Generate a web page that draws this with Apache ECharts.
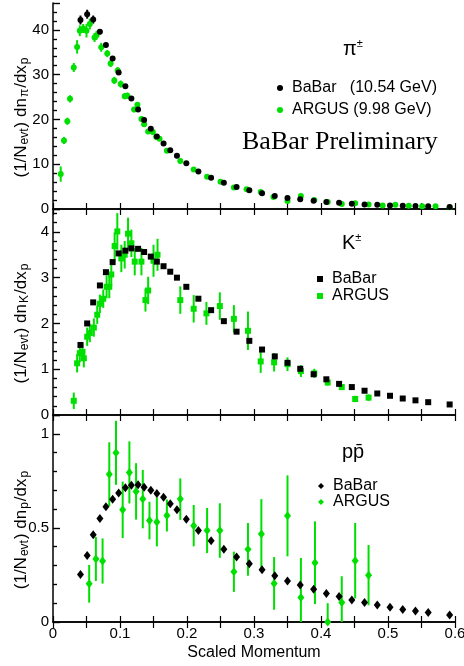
<!DOCTYPE html>
<html><head><meta charset="utf-8">
<script src="https://cdn.jsdelivr.net/npm/echarts@6/dist/echarts.min.js"></script>
<style>html,body{margin:0;padding:0;background:#fff}#c{width:464px;height:666px}</style>
</head><body><div id="c"></div>
<script>
// ---- data ----
const babarX = [0.041,0.051,0.060,0.070,0.079,0.089,0.098,0.108,0.117,0.127,0.136,0.146,0.155,0.165,0.175,0.185,0.199,0.217,0.236,0.255,0.274,0.293,0.312,0.331,0.350,0.369,0.389,0.408,0.427,0.446,0.465,0.484,0.503,0.522,0.541,0.560,0.592];
const babarPi = [42.2,43.5,42.3,39.6,36.6,33.6,30.5,27.4,24.7,22.2,19.9,17.9,16.2,14.6,13.1,11.9,10.2,8.4,7.0,5.85,4.9,4.2,3.5,2.9,2.45,2.15,1.85,1.55,1.4,1.2,1.0,0.95,0.8,0.75,0.65,0.6,0.45];
const babarPiErr = [1.0,1.0,0.9,0.6,0.5,0.4,0.4,0.3,0.3,0.3,0.3,0.2,0.2,0.2,0.2,0.2,0.2,0.1,0.1,0.1,0.1,0.1,0.1,0.1,0.1,0.1,0.1,0.1,0.1,0.1,0.1,0.1,0.1,0.1,0.1,0.1,0.1];
const babarK = [1.53,2.0,2.46,2.83,3.12,3.34,3.53,3.59,3.64,3.63,3.56,3.46,3.35,3.25,3.13,3.0,2.80,2.54,2.29,2.05,1.82,1.62,1.43,1.28,1.14,1.01,0.89,0.78,0.68,0.61,0.53,0.47,0.42,0.36,0.32,0.28,0.23];
const babarP = [0.252,0.353,0.463,0.550,0.613,0.652,0.686,0.713,0.727,0.730,0.716,0.700,0.683,0.663,0.629,0.596,0.546,0.486,0.432,0.387,0.346,0.309,0.277,0.246,0.218,0.197,0.174,0.152,0.135,0.117,0.103,0.090,0.078,0.067,0.058,0.050,0.037];

const argusPiX = [0.0115,0.0164,0.0214,0.0254,0.031,0.036,0.040,0.045,0.050,0.055,0.062,0.065,0.072,0.081,0.086,0.0915,0.0965,0.101,0.107,0.111,0.121,0.126,0.132,0.136,0.142,0.149,0.154,0.159,0.170,0.190,0.210,0.230,0.250,0.270,0.289,0.310,0.329,0.350,0.370,0.390,0.410,0.431,0.451,0.471,0.492,0.511,0.531,0.551,0.571,0.592];
const argusPi = [7.8,15.3,19.6,24.6,31.6,36.2,39.8,40.3,39.8,41.3,38.3,38.8,36.1,34.7,32.5,28.7,30.9,27.9,25.2,25.3,22.2,23.3,20.1,18.9,17.3,17.2,16.1,15.7,13.0,10.7,8.8,7.2,6.1,4.8,4.4,3.8,2.7,1.8,2.9,2.0,1.55,1.1,1.3,1.0,0.8,0.95,0.75,0.6,0.6,0.4];
const argusPiErr = [1.7,0.8,0.8,0.8,1.0,1.5,1.2,1.0,1.5,1.2,1.0,1.0,1.0,0.8,0.8,0.8,0.8,0.8,0.7,0.7,0.6,0.6,0.6,0.5,0.5,0.5,0.5,0.5,0.4,0.4,0.3,0.3,0.3,0.3,0.3,0.3,0.3,0.3,0.3,0.2,0.2,0.2,0.2,0.2,0.2,0.2,0.2,0.2,0.2,0.2];

const argusKX = [0.031,0.036,0.040,0.044,0.046,0.051,0.055,0.061,0.066,0.070,0.075,0.080,0.084,0.087,0.092,0.096,0.102,0.107,0.112,0.117,0.122,0.132,0.138,0.142,0.150,0.156,0.190,0.210,0.229,0.249,0.270,0.291,0.310,0.330,0.350,0.370,0.390,0.410,0.431,0.451,0.471];
const argusK = [0.31,1.13,1.35,1.38,1.24,1.71,1.79,1.91,2.19,2.43,2.54,2.80,2.80,3.07,3.69,4.01,3.42,3.50,3.96,3.75,3.35,3.35,2.51,2.72,3.37,3.50,2.51,2.32,2.22,2.38,2.10,1.84,1.17,1.15,1.11,0.96,0.91,0.71,0.61,0.35,0.38];
const argusKErr = [0.18,0.2,0.2,0.2,0.2,0.2,0.2,0.2,0.2,0.2,0.2,0.25,0.25,0.25,0.3,0.4,0.3,0.3,0.35,0.3,0.3,0.3,0.25,0.3,0.35,0.35,0.3,0.3,0.25,0.3,0.3,0.42,0.25,0.2,0.15,0.13,0.1,0.07,0.06,0.07,0.07];

const argusPX = [0.054,0.064,0.074,0.084,0.094,0.104,0.114,0.124,0.134,0.144,0.155,0.170,0.190,0.210,0.230,0.249,0.270,0.291,0.311,0.330,0.350,0.370,0.391,0.410,0.431,0.451,0.471];
const argusP = [0.203,0.335,0.324,0.785,0.899,0.596,0.795,0.694,0.653,0.539,0.532,0.566,0.653,0.512,0.486,0.486,0.267,0.386,0.468,0.205,0.564,0.130,0.315,0.0,0.103,0.326,0.249];
const argusPErr = [0.10,0.117,0.12,0.17,0.17,0.15,0.165,0.15,0.155,0.10,0.13,0.085,0.11,0.11,0.12,0.145,0.107,0.14,0.185,0.14,0.215,0.21,0.22,0.1,0.14,0.2,0.16];

const xTickLabels = ['0','0.1','0.2','0.3','0.4','0.5','0.6'];
const yMax = [46, 4.5, 1.1];
const yInterval = [10, 1, 0.5];

// ---- chart ----
const FONT = 'Liberation Sans';
const GREEN = '#00e000';
const chart = echarts.init(document.getElementById('c'), null, {renderer: 'canvas'});
const grids = [
  {left: 53, right: 9, top: 3, height: 206, containLabel: false, outerBoundsMode: 'none'},
  {left: 53, right: 9, top: 209, height: 206, containLabel: false, outerBoundsMode: 'none'},
  {left: 53, right: 9, top: 415, height: 207, containLabel: false, outerBoundsMode: 'none'}
];
const axisLine = {show: true, lineStyle: {color: '#000', width: 1.5}};
const xAxes = [], yAxes = [];
for (let i = 0; i < 3; i++) {
  xAxes.push({
    type: 'value', gridIndex: i, position: 'bottom', min: 0, max: 0.6, interval: 0.05,
    axisLine, axisTick: {inside: true, length: 6, lineStyle: {color: '#000', width: 1.2}},
    splitLine: {show: false},
    axisLabel: i === 2 ? {
      show: true, fontSize: 15, fontFamily: FONT, color: '#000', margin: 4,
      formatter: v => { const r = Math.round(v * 100); return r % 10 === 0 ? xTickLabels[r / 10] : ''; }
    } : {show: false},
    name: i === 2 ? 'Scaled Momentum' : '', nameLocation: 'middle', nameGap: 23, nameMoveOverlap: false,
    nameTextStyle: {fontSize: 16, fontFamily: FONT, color: '#000'}
  });
  xAxes.push({
    type: 'value', gridIndex: i, position: 'top', min: 0, max: 0.6, interval: 0.05,
    axisLine, axisTick: {inside: true, length: 6, lineStyle: {color: '#000', width: 1.2}},
    splitLine: {show: false}, axisLabel: {show: false}
  });
}
const subName = ['π', 'K', 'p'];
for (let i = 0; i < 3; i++) {
  yAxes.push({
    type: 'value', gridIndex: i, position: 'left', min: 0, max: yMax[i], interval: yInterval[i],
    axisLine, axisTick: {inside: true, length: 7, lineStyle: {color: '#000', width: 1.2}},
    minorTick: {show: true, splitNumber: 5, length: 4, lineStyle: {color: '#000', width: 1.2}},
    splitLine: {show: false}, minorSplitLine: {show: false},
    axisLabel: {fontSize: 15, fontFamily: FONT, color: '#000', margin: 4, showMaxLabel: false},
    name: '(1/N{s|evt}) dn{s|' + subName[i] + '}/dx{s|p}', nameLocation: 'middle', nameGap: 22, nameMoveOverlap: false,
    nameTextStyle: {fontSize: 17, fontFamily: FONT, color: '#000', lineHeight: 20, padding: [0, 22, 0, 0],
      rich: {s: {fontSize: 12, fontFamily: FONT, color: '#000', lineHeight: 12, verticalAlign: 'bottom', padding: [0, 1, 0, 1]}}}
  });
  yAxes.push({
    type: 'value', gridIndex: i, position: 'right', offset: 3, min: 0, max: yMax[i], interval: yInterval[i],
    axisLine: {show: false}, axisTick: {inside: false, length: 7, lineStyle: {color: '#000', width: 1.2}},
    minorTick: {show: true, splitNumber: 5, length: 4, lineStyle: {color: '#000', width: 1.2}},
    splitLine: {show: false}, axisLabel: {show: false}
  });
}

function errSeries(xs, ys, es, gi, color) {
  const ymax = yMax[gi];
  return {
    type: 'custom', xAxisIndex: gi * 2, yAxisIndex: gi * 2, z: 2, silent: true,
    data: xs.map((x, k) => [x, ys[k], es[k]]),
    encode: {x: 0, y: 1},
    renderItem: (params, api) => {
      const x = api.value(0), y = api.value(1), e = api.value(2);
      const lo = Math.max(0, y - e), hi = Math.min(ymax, y + e);
      const p1 = api.coord([x, lo]), p2 = api.coord([x, hi]);
      return {type: 'line', shape: {x1: p1[0], y1: p1[1], x2: p2[0], y2: p2[1]},
        style: {stroke: color, lineWidth: 2}};
    }
  };
}
function pts(name, xs, ys, gi, symbol, size, color) {
  return {
    type: 'scatter', name, xAxisIndex: gi * 2, yAxisIndex: gi * 2, z: 3,
    symbol, symbolSize: size, itemStyle: {color, opacity: 1},
    data: xs.map((x, k) => [x, ys[k]]), clip: false
  };
}
const series = [
  errSeries(argusPiX, argusPi, argusPiErr, 0, GREEN),
  errSeries(babarX, babarPi, babarPiErr, 0, '#000'),
  pts('ARGUS (9.98 GeV)', argusPiX, argusPi, 0, 'circle', 6, GREEN),
  pts('BaBar   (10.54 GeV)', babarX, babarPi, 0, 'circle', 6, '#000'),
  errSeries(argusKX, argusK, argusKErr, 1, GREEN),
  pts('ARGUS', argusKX, argusK, 1, 'rect', 6, GREEN),
  pts('BaBar', babarX, babarK, 1, 'rect', 6, '#000'),
  errSeries(argusPX, argusP, argusPErr, 2, GREEN),
  pts('ARGUS ', argusPX, argusP, 2, 'diamond', [7, 9], GREEN),
  pts('BaBar ', babarX, babarP, 2, 'diamond', [7, 9], '#000')
];
function leg(names, left, top, gap) {
  return {data: names, left, top, orient: 'vertical', itemWidth: 6, itemHeight: 6, itemGap: gap,
    selectedMode: false, textStyle: {fontSize: 16, fontFamily: FONT, color: '#000', lineHeight: 16, padding: [0, 0, 0, 4]}};
}
const option = {
  animation: false,
  grid: grids,
  xAxis: xAxes,
  yAxis: yAxes,
  series,
  legend: [
    leg(['BaBar   (10.54 GeV)', 'ARGUS (9.98 GeV)'], 272, 75, 6),
    leg(['BaBar', 'ARGUS'], 312, 266, 1),
    leg(['BaBar ', 'ARGUS '], 313, 473, 0)
  ],
  graphic: [
    {type: 'text', x: 343, y: 49, style: {text: '{a|π}{s|±}', verticalAlign: 'middle',
      rich: {a: {fontSize: 20, fontFamily: FONT, fill: '#000', lineHeight: 22}, s: {fontSize: 11, fontFamily: FONT, fill: '#000', lineHeight: 11, verticalAlign: 'top'}}}},
    {type: 'text', x: 342, y: 243, style: {text: '{a|K}{s|±}', verticalAlign: 'middle',
      rich: {a: {fontSize: 20, fontFamily: FONT, fill: '#000', lineHeight: 22}, s: {fontSize: 11, fontFamily: FONT, fill: '#000', lineHeight: 11, verticalAlign: 'top'}}}},
    {type: 'text', x: 342, y: 452, style: {text: 'pp\u0304', verticalAlign: 'middle', fontSize: 20, fontFamily: FONT, fill: '#000'}},
    {type: 'text', x: 242, y: 142, style: {text: 'BaBar Preliminary', verticalAlign: 'middle', fontSize: 26, fontFamily: 'Liberation Serif', fill: '#000'}}
  ]
};
chart.setOption(option);
</script></body></html>
